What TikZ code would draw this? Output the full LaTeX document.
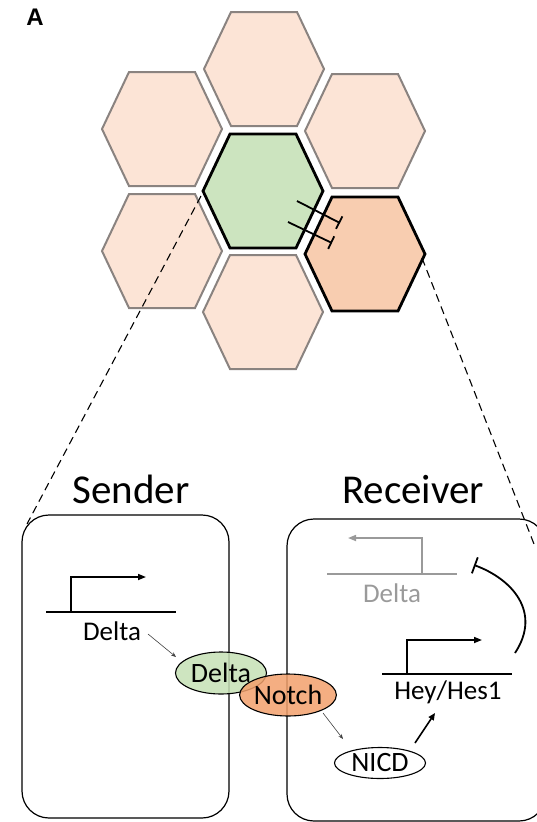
\documentclass[tikz,border=0pt]{standalone}
\usepackage{fontspec}
\setmainfont{Carlito}
\newfontfamily\labelfont{Liberation Sans}
\usetikzlibrary{arrows.meta,shapes.geometric}
\definecolor{peach}{HTML}{FCE4D6}
\definecolor{hexgray}{HTML}{8A8380}
\definecolor{orcell}{HTML}{F8CDB0}
\definecolor{grcell}{HTML}{CCE4BF}
\definecolor{grell}{HTML}{C6E0B5}
\definecolor{orell}{HTML}{F2A06C}
\definecolor{genegray}{HTML}{9A9A9A}
\newcommand\hexcell[3]{\draw[#3] ({#1-33},{#2-57}) -- ({#1+33},{#2-57}) -- ({#1+60},#2) -- ({#1+33},{#2+57}) -- ({#1-33},{#2+57}) -- ({#1-60},#2) -- cycle;}
\begin{document}
\begin{tikzpicture}[x=1pt,y=-1pt,
  outercell/.style={fill=peach,draw=hexgray,line width=2pt},
  sigcell/.style={draw=black,line width=2.8pt},
  inhib/.style={line width=1.8pt,-{Bar[width=14pt,line width=1.8pt]}},
  cellbox/.style={draw=black,line width=1.2pt,rounded corners=27pt},
  panellabel/.style={anchor=base,inner sep=0pt},
  bigtitle/.style={font=\fontsize{41}{46}\selectfont,anchor=base},
  genetext/.style={font=\fontsize{27}{30}\selectfont,anchor=base,inner sep=0pt},
  ell/.style={ellipse,draw=black,line width=1.1pt,minimum width=91pt,minimum height=42pt,inner sep=0pt,font=\fontsize{28}{30}\selectfont,fill opacity=0.85,text opacity=1},
  gene/.style={line width=1.6pt},
  promoter/.style={line width=1.6pt,-{Triangle[length=8pt,width=6pt]}},
  thinarrow/.style={line width=0.6pt,draw=black!75,-{Stealth[length=5pt,width=4pt]}},
  thickarrow/.style={line width=1.6pt,-{Triangle[length=7pt,width=6pt]}},
  zoomline/.style={line width=1.1pt,dash pattern=on 8pt off 5pt}]
\useasboundingbox (0,0) rectangle (537,822);
\clip (0,0) rectangle (537,822);
% hexagonal tissue
\hexcell{264}{69}{outercell}
\hexcell{162}{129}{outercell}
\hexcell{365}{131}{outercell}
\hexcell{162}{251}{outercell}
\hexcell{263}{312}{outercell}
\hexcell{263}{191}{sigcell,fill=grcell}
\hexcell{365}{254}{sigcell,fill=orcell}
\draw[inhib] (297,201) -- (340,223);
\draw[inhib] (288,222) -- (332,243);
\node[panellabel] (lblA) at (35,25) {\fontsize{24}{26}\selectfont\labelfont\bfseries A};
% zoom lines
\coordinate (zl1) at (201,196);
\coordinate (zl2) at (27,524);
\coordinate (zr1) at (422,258);
\coordinate (zr2) at (534,544);
\draw[zoomline] (zl1) -- (zl2);
\draw[zoomline] (zr1) -- (zr2);
% titles
\node[bigtitle] (sender) at (131,503) {Sender};
\node[bigtitle] (receiver) at (413,503) {Receiver};
% cell boxes
\draw[cellbox] (22,515) rectangle (229,818);
\draw[cellbox] (287,519) rectangle (546,821);
% sender gene
\draw[gene] (46,612) -- (176,612);
\draw[promoter] (71,612) -- (71,577) -- (146,577);
\node[genetext] (sdelta) at (112,640) {Delta};
% receiver delta gene (grey)
\draw[gene,color=genegray] (327,574) -- (457,574);
\draw[promoter,color=genegray] (422,574) -- (422,538) -- (348,538);
\node[genetext,text=genegray] (rdelta) at (392,602) {Delta};
% receiver Hey/Hes1 gene
\draw[gene] (382,674) -- (512,674);
\draw[promoter] (407,674) -- (407,640) -- (482,640);
\node[genetext] (hey) at (448,699) {Hey/Hes1};
% inhibition arc
\coordinate (ia1) at (515,653);
\coordinate (ia2) at (474,565);
\draw[line width=1.8pt,-{Bar[width=17pt,line width=1.8pt]}] (ia1) .. controls (542,612) and (512,579) .. (ia2);
% proteins
\node[ell,fill=grell] (gdelta) at (221,673) {Delta};
\node[ell,fill=orell] (notch) at (288,695) {Notch};
\node[ell,fill=white,fill opacity=1,minimum height=31pt] (nicd) at (380,763) {NICD};
% arrows
\coordinate (a1) at (148,634);
\coordinate (a2) at (176,657);
\draw[thinarrow] (a1) -- (a2);
\coordinate (b1) at (323,713);
\coordinate (b2) at (343,739);
\draw[thinarrow] (b1) -- (b2);
\coordinate (c1) at (415,743);
\coordinate (c2) at (435,713);
\draw[thickarrow] (c1) -- (c2);
\end{tikzpicture}
\end{document}
